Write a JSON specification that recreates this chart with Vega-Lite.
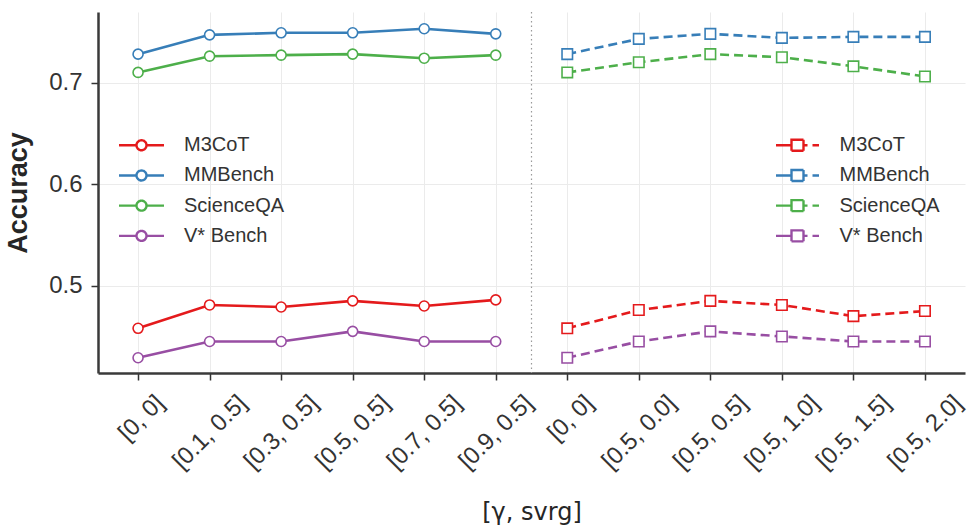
{
  "$schema": "https://vega.github.io/schema/vega-lite/v6.json",
  "width": 867,
  "height": 361,
  "autosize": {"type": "none"},
  "padding": {"left": 98, "top": 12, "right": 9, "bottom": 154},
  "background": "white",
  "config": {
    "view": {"stroke": null},
    "font": "Liberation Sans",
    "axis": {"labelColor": "#333333", "titleColor": "#262626", "labelFont": "Liberation Sans"}
  },
  "data": {
    "values": [
      {"panel": "left", "idx": 0, "series": "M3CoT", "acc": 0.458},
      {"panel": "left", "idx": 1, "series": "M3CoT", "acc": 0.481},
      {"panel": "left", "idx": 2, "series": "M3CoT", "acc": 0.479},
      {"panel": "left", "idx": 3, "series": "M3CoT", "acc": 0.485},
      {"panel": "left", "idx": 4, "series": "M3CoT", "acc": 0.480},
      {"panel": "left", "idx": 5, "series": "M3CoT", "acc": 0.486},
      {"panel": "left", "idx": 0, "series": "MMBench", "acc": 0.728},
      {"panel": "left", "idx": 1, "series": "MMBench", "acc": 0.747},
      {"panel": "left", "idx": 2, "series": "MMBench", "acc": 0.749},
      {"panel": "left", "idx": 3, "series": "MMBench", "acc": 0.749},
      {"panel": "left", "idx": 4, "series": "MMBench", "acc": 0.753},
      {"panel": "left", "idx": 5, "series": "MMBench", "acc": 0.748},
      {"panel": "left", "idx": 0, "series": "ScienceQA", "acc": 0.710},
      {"panel": "left", "idx": 1, "series": "ScienceQA", "acc": 0.726},
      {"panel": "left", "idx": 2, "series": "ScienceQA", "acc": 0.727},
      {"panel": "left", "idx": 3, "series": "ScienceQA", "acc": 0.728},
      {"panel": "left", "idx": 4, "series": "ScienceQA", "acc": 0.724},
      {"panel": "left", "idx": 5, "series": "ScienceQA", "acc": 0.727},
      {"panel": "left", "idx": 0, "series": "V* Bench", "acc": 0.429},
      {"panel": "left", "idx": 1, "series": "V* Bench", "acc": 0.445},
      {"panel": "left", "idx": 2, "series": "V* Bench", "acc": 0.445},
      {"panel": "left", "idx": 3, "series": "V* Bench", "acc": 0.455},
      {"panel": "left", "idx": 4, "series": "V* Bench", "acc": 0.445},
      {"panel": "left", "idx": 5, "series": "V* Bench", "acc": 0.445},
      {"panel": "right", "idx": 6, "series": "M3CoT", "acc": 0.458},
      {"panel": "right", "idx": 7, "series": "M3CoT", "acc": 0.476},
      {"panel": "right", "idx": 8, "series": "M3CoT", "acc": 0.485},
      {"panel": "right", "idx": 9, "series": "M3CoT", "acc": 0.481},
      {"panel": "right", "idx": 10, "series": "M3CoT", "acc": 0.470},
      {"panel": "right", "idx": 11, "series": "M3CoT", "acc": 0.475},
      {"panel": "right", "idx": 6, "series": "MMBench", "acc": 0.728},
      {"panel": "right", "idx": 7, "series": "MMBench", "acc": 0.743},
      {"panel": "right", "idx": 8, "series": "MMBench", "acc": 0.748},
      {"panel": "right", "idx": 9, "series": "MMBench", "acc": 0.744},
      {"panel": "right", "idx": 10, "series": "MMBench", "acc": 0.745},
      {"panel": "right", "idx": 11, "series": "MMBench", "acc": 0.745},
      {"panel": "right", "idx": 6, "series": "ScienceQA", "acc": 0.710},
      {"panel": "right", "idx": 7, "series": "ScienceQA", "acc": 0.720},
      {"panel": "right", "idx": 8, "series": "ScienceQA", "acc": 0.728},
      {"panel": "right", "idx": 9, "series": "ScienceQA", "acc": 0.725},
      {"panel": "right", "idx": 10, "series": "ScienceQA", "acc": 0.716},
      {"panel": "right", "idx": 11, "series": "ScienceQA", "acc": 0.706},
      {"panel": "right", "idx": 6, "series": "V* Bench", "acc": 0.429},
      {"panel": "right", "idx": 7, "series": "V* Bench", "acc": 0.445},
      {"panel": "right", "idx": 8, "series": "V* Bench", "acc": 0.455},
      {"panel": "right", "idx": 9, "series": "V* Bench", "acc": 0.450},
      {"panel": "right", "idx": 10, "series": "V* Bench", "acc": 0.445},
      {"panel": "right", "idx": 11, "series": "V* Bench", "acc": 0.445}
    ]
  },
  "layer": [
    {
      "transform": [{"filter": "datum.panel == 'left'"}],
      "mark": {
        "type": "line",
        "strokeWidth": 2.6,
        "point": {"shape": "circle", "filled": false, "fill": "white", "size": 100, "strokeWidth": 1.6, "opacity": 1}
      },
      "encoding": {
        "x": {
          "field": "idx",
          "type": "quantitative",
          "scale": {"domain": [-0.56, 11.56], "nice": false, "zero": false},
          "axis": {
            "values": [0, 1, 2, 3, 4, 5, 6, 7, 8, 9, 10, 11],
            "labelExpr": "['[0, 0]','[0.1, 0.5]','[0.3, 0.5]','[0.5, 0.5]','[0.7, 0.5]','[0.9, 0.5]','[0, 0]','[0.5, 0.0]','[0.5, 0.5]','[0.5, 1.0]','[0.5, 1.5]','[0.5, 2.0]'][datum.value]",
            "labelAngle": -45,
            "labelAlign": "right",
            "labelBaseline": "middle",
            "labelFontSize": 24,
            "labelPadding": 19,
            "labelOffset": {"condition": {"test": "datum.value % 6 == 0", "value": 22}, "value": 33},
            "labelOverlap": false,
            "labelBound": false,
            "labelFlush": false,
            "tickSize": 7,
            "tickWidth": 1.5,
            "tickColor": "#333333",
            "domainColor": "#3a3a3a",
            "domainWidth": 2.5,
            "grid": true,
            "gridColor": "#ebebeb",
            "gridWidth": 1,
            "title": "[γ, svrg]",
            "titleFont": "DejaVu Sans",
            "titleFontSize": 24,
            "titleFontWeight": "normal",
            "titleBaseline": "alphabetic",
            "titleAlign": "center",
            "titleX": 433.5,
            "titleY": 146
          }
        },
        "y": {
          "field": "acc",
          "type": "quantitative",
          "scale": {"domain": [0.414, 0.7695], "nice": false, "zero": false},
          "axis": {
            "values": [0.5, 0.6, 0.7],
            "format": ".1f",
            "labelFontSize": 24,
            "labelPadding": 9,
            "tickSize": 7,
            "tickWidth": 1.5,
            "tickColor": "#333333",
            "domainColor": "#3a3a3a",
            "domainWidth": 2.5,
            "grid": true,
            "gridColor": "#ebebeb",
            "gridWidth": 1,
            "title": "Accuracy",
            "titleFontSize": 27,
            "titleFontWeight": "bold",
            "titleAngle": -90,
            "titleBaseline": "bottom",
            "titleAlign": "center",
            "titleX": -66,
            "titleY": 180.5
          }
        },
        "color": {
          "field": "series",
          "type": "nominal",
          "scale": {"domain": ["M3CoT", "MMBench", "ScienceQA", "V* Bench"], "range": ["#e41a1c", "#377eb8", "#4daf4a", "#984ea3"]},
          "legend": {
            "orient": "none",
            "legendX": 32,
            "legendY": 121.75,
            "title": null,
            "padding": 0,
            "symbolType": "M-2.25,0H-0.5M0.5,0H2.25M0.5,0A0.5,0.5,0,1,1,-0.5,0A0.5,0.5,0,1,1,0.5,0Z",
            "symbolSize": 400,
            "symbolStrokeWidth": 2.4,
            "symbolFillColor": "white",
            "labelFontSize": 20,
            "labelColor": "#333333",
            "labelOffset": 31,
            "rowPadding": 8.2,
            "encode": {"symbols": {"update": {"fill": {"value": "white"}, "strokeDash": {"value": [1, 0]}}}}
          }
        }
      }
    },
    {
      "transform": [{"filter": "datum.panel == 'right'"}],
      "mark": {
        "type": "line",
        "strokeWidth": 2.6,
        "strokeDash": [9, 5],
        "point": {"shape": "square", "filled": false, "fill": "white", "size": 110, "strokeWidth": 1.6, "opacity": 1, "strokeDash": [1, 0]}
      },
      "encoding": {
        "x": {"field": "idx", "type": "quantitative"},
        "y": {"field": "acc", "type": "quantitative"},
        "color": {
          "field": "series",
          "type": "nominal",
          "scale": {"domain": ["M3CoT", "MMBench", "ScienceQA", "V* Bench"], "range": ["#e41a1c", "#377eb8", "#4daf4a", "#984ea3"]},
          "legend": {
            "orient": "none",
            "legendX": 688,
            "legendY": 121.75,
            "title": null,
            "padding": 0,
            "symbolType": "M-2.15,0H-0.6M-0.6,-0.55H0.6V0.55H-0.6ZM0.6,0H1.0M1.5,0H2.15",
            "symbolSize": 400,
            "symbolStrokeWidth": 2.4,
            "symbolFillColor": "white",
            "labelFontSize": 20,
            "labelColor": "#333333",
            "labelOffset": 30.5,
            "rowPadding": 8.2,
            "encode": {"symbols": {"update": {"fill": {"value": "white"}, "strokeDash": {"value": [1, 0]}}}}
          }
        }
      }
    },
    {
      "data": {"values": [{}]},
      "mark": {"type": "rule", "color": "#9a9a9a", "strokeDash": [1.5, 3], "strokeWidth": 1.2},
      "encoding": {"x": {"datum": 5.5, "type": "quantitative"}}
    }
  ],
  "resolve": {"scale": {"color": "independent"}, "legend": {"color": "independent"}}
}
